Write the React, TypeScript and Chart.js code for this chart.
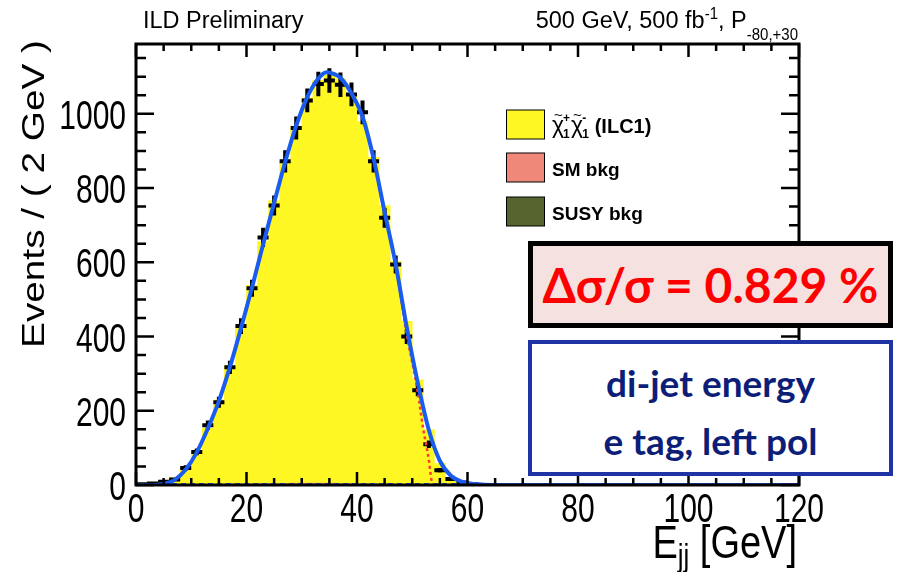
import React, { useEffect, useRef } from "react";
import { Chart, registerables } from "chart.js";
Chart.register(...registerables);

// ---------- data ----------
const binCenters = [1, 3, 5, 7, 9, 11, 13, 15, 17, 19, 21, 23, 25, 27, 29, 31, 33, 35, 37, 39, 41, 43, 45, 47, 49, 51, 53, 55, 57, 59, 61, 63];
const dataCounts = [2, 4, 9, 15, 46, 89, 161, 223, 317, 428, 530, 667, 753, 872, 962, 1036, 1080, 1090, 1078, 1052, 1004, 872, 720, 594, 400, 255, 110, 40, 16, 7, 2, 0];
const dataErrors = [1, 2, 3, 4, 7, 9, 13, 15, 18, 21, 23, 26, 27, 30, 31, 32, 33, 33, 33, 32, 32, 30, 27, 24, 20, 16, 10, 6, 4, 3, 1, 0];
const signalHist = [0, 2, 8, 20, 44, 86, 152, 228, 318, 425, 535, 652, 762, 868, 962, 1038, 1085, 1100, 1090, 1045, 975, 880, 750, 600, 440, 282, 148, 58, 18, 5, 1, 0];
const smBkgHist = [0, 0, 0, 0, 0, 1, 1, 1, 2, 2, 2, 3, 3, 3, 4, 4, 4, 4, 3, 3, 3, 2, 2, 2, 1, 1, 1, 0, 0, 0, 0, 0];
const susyBkgHist = [0, 0, 0, 0, 0, 0, 0, 0, 1, 1, 1, 1, 1, 1, 1, 1, 1, 1, 1, 1, 1, 1, 1, 0, 0, 0, 0, 0, 0, 0, 0, 0];

const fitE = [0, 3, 4, 5, 7, 9, 11, 13, 15, 17, 19, 21, 23, 25, 27, 29, 31, 33, 34.5, 36, 37, 39, 41, 43, 45, 47, 49, 51, 53, 55, 57, 59, 61, 63, 66, 120];
const fitY = [0, 0, 1, 3, 14, 42, 88, 152, 226, 318, 422, 532, 648, 760, 870, 968, 1045, 1095, 1112, 1106, 1097, 1055, 992, 880, 735, 595, 425, 275, 148, 65, 25, 9, 3, 1, 0, 0];

const sigCompE = [43, 45, 47, 49, 50, 51, 52, 52.5, 53, 53.3, 53.6];
const sigCompY = [878, 730, 592, 405, 330, 250, 150, 110, 68, 32, 0];

const bkgCompE = [0, 120];
const bkgCompY = [3, 3];

const xTickLabels = [0, 20, 40, 60, 80, 100, 120];
const yTickLabels = [0, 200, 400, 600, 800, 1000];

const legendLabels = ["SM bkg", "SUSY bkg"];

// ---------- styles ----------
const FONT = '"Liberation Sans", Arial, Helvetica, sans-serif';
const YELLOW = "#fff724";
const SALMON = "#f0887a";
const OLIVE = "#566530";
const FITBLUE = "#1a5cf0";

function scaledText(ctx: CanvasRenderingContext2D, text: string, x: number, y: number, font: string, sx: number, sy: number, align: CanvasTextAlign = "left") {
  ctx.save();
  ctx.translate(x, y);
  ctx.scale(sx, sy);
  ctx.font = font;
  ctx.textAlign = align;
  ctx.textBaseline = "alphabetic";
  ctx.fillText(text, 0, 0);
  ctx.restore();
}

const errorBarPlugin = {
  id: "errorBars",
  afterDatasetDraw(chart: any, args: any) {
    if (args.index !== 3) return;
    const { ctx, chartArea: ca, scales } = chart;
    const x = scales.x, y = scales.y;
    ctx.save();
    ctx.beginPath();
    ctx.rect(ca.left, ca.top, ca.right - ca.left, ca.bottom - ca.top);
    ctx.clip();
    ctx.strokeStyle = "#000";
    ctx.lineWidth = 4;
    ctx.lineCap = "butt";
    for (let i = 0; i < binCenters.length; i++) {
      const c = binCenters[i], v = dataCounts[i], e = dataErrors[i];
      const px = x.getPixelForValue(c);
      const py = y.getPixelForValue(v);
      ctx.beginPath();
      ctx.moveTo(x.getPixelForValue(c - 1), py);
      ctx.lineTo(x.getPixelForValue(c + 1), py);
      ctx.moveTo(px, y.getPixelForValue(v - e));
      ctx.lineTo(px, y.getPixelForValue(v + e));
      ctx.stroke();
    }
    ctx.restore();
  },
};

const decorPlugin = {
  id: "decor",
  afterDraw(chart: any) {
    const { ctx, chartArea: ca, scales } = chart;
    const x = scales.x, y = scales.y;
    ctx.save();
    // frame
    ctx.strokeStyle = "#000";
    ctx.lineWidth = 3;
    ctx.strokeRect(ca.left, ca.top, ca.right - ca.left, ca.bottom - ca.top);
    // ticks
    ctx.lineWidth = 2.5;
    ctx.beginPath();
    for (let v = 0; v <= 120; v += 5) {
      const px = x.getPixelForValue(v);
      const len = v % 20 === 0 ? 13 : 7;
      ctx.moveTo(px, ca.bottom);
      ctx.lineTo(px, ca.bottom - len);
      ctx.moveTo(px, ca.top);
      ctx.lineTo(px, ca.top + len);
    }
    for (let v = 0; v <= 1150; v += 50) {
      const py = y.getPixelForValue(v);
      const len = v % 200 === 0 ? 18 : 10;
      ctx.moveTo(ca.left, py);
      ctx.lineTo(ca.left + len, py);
      ctx.moveTo(ca.right, py);
      ctx.lineTo(ca.right - len, py);
    }
    ctx.stroke();

    ctx.fillStyle = "#000";
    // tick labels
    for (const v of yTickLabels) {
      scaledText(ctx, String(v), ca.left - 10, y.getPixelForValue(v) + 15, `30px ${FONT}`, 1, 1.33, "right");
    }
    for (const v of xTickLabels) {
      scaledText(ctx, String(v), x.getPixelForValue(v), ca.bottom + 37, `30px ${FONT}`, 1, 1.33, "center");
    }

    // y title (rotated)
    ctx.save();
    ctx.translate(44, 40);
    ctx.rotate(-Math.PI / 2);
    ctx.scale(1.25, 1);
    ctx.font = `31px ${FONT}`;
    ctx.textAlign = "right";
    ctx.textBaseline = "alphabetic";
    ctx.fillText("Events / ( 2 GeV )", 0, 0);
    ctx.restore();

    // x title: E_jj [GeV]
    {
      const big = `38px ${FONT}`;
      const small = `26px ${FONT}`;
      ctx.font = big;
      const wGeV = ctx.measureText(" [GeV]").width;
      const wE = ctx.measureText("E").width;
      ctx.font = small;
      const wjj = ctx.measureText("jj").width;
      const right = ca.right - 2;
      const base = 558;
      const xGeV = right - wGeV;
      const xjj = xGeV - wjj;
      const xE = xjj - wE;
      scaledText(ctx, "E", xE, base, big, 1, 1.2);
      scaledText(ctx, "jj", xjj, base + 8, small, 1, 1.2);
      scaledText(ctx, " [GeV]", xGeV, base, big, 1, 1.2);
    }

    // header
    scaledText(ctx, "ILD Preliminary", 143, 28, `23.5px ${FONT}`, 1, 1.05);
    {
      const f = `23.5px ${FONT}`;
      const fs = `15px ${FONT}`;
      ctx.font = f;
      const w1 = ctx.measureText("500 GeV, 500 fb").width;
      const w3 = ctx.measureText(", P").width;
      ctx.font = fs;
      const w2 = ctx.measureText("-1").width;
      const w4 = ctx.measureText("-80,+30").width;
      const right = 798;
      const x4 = right - w4;
      const x3 = x4 - w3;
      const x2 = x3 - w2;
      const x1 = x2 - w1;
      scaledText(ctx, "500 GeV, 500 fb", x1, 28, f, 1, 1.05);
      scaledText(ctx, "-1", x2, 19, fs, 1, 1.05);
      scaledText(ctx, ", P", x3, 28, f, 1, 1.05);
      scaledText(ctx, "-80,+30", x4, 40, fs, 1, 1.05);
    }

    // legend
    const boxes = [
      { c: YELLOW, top: 110 },
      { c: SALMON, top: 153 },
      { c: OLIVE, top: 197 },
    ];
    ctx.lineWidth = 1;
    ctx.strokeStyle = "#000";
    for (const b of boxes) {
      ctx.fillStyle = b.c;
      ctx.fillRect(506.5, b.top, 38, 29);
      ctx.strokeRect(506.5, b.top, 38, 29);
    }
    ctx.fillStyle = "#000";
    // chi chi label
    {
      const base = 133;
      let cx = 552;
      ctx.textAlign = "left";
      ctx.textBaseline = "alphabetic";
      const drawChi = (sup: string) => {
        ctx.font = `23px ${FONT}`;
        ctx.fillText("\u03c7", cx, base);
        const wc = ctx.measureText("\u03c7").width;
        ctx.font = `15px ${FONT}`;
        ctx.fillText("~", cx + 2, base - 13);
        ctx.font = `bold 12px ${FONT}`;
        ctx.fillText("1", cx + wc - 1, base + 5);
        ctx.fillText(sup, cx + wc - 1, base - 11);
        cx += wc + 7;
      };
      drawChi("+");
      drawChi("-");
      ctx.font = `bold 20px ${FONT}`;
      ctx.fillText(" (ILC1)", cx - 1, base);
    }
    ctx.font = `bold 19px ${FONT}`;
    ctx.fillText(legendLabels[0], 552, 176);
    ctx.fillText(legendLabels[1], 552, 220);
    ctx.restore();
  },
};

export default function App() {
  const ref = useRef<HTMLCanvasElement | null>(null);
  useEffect(() => {
    if (!ref.current) return;
    const pts = (xs: number[], ys: number[]) => xs.map((x, i) => ({ x, y: ys[i] }));
    const chart = new Chart(ref.current, {
      data: {
        datasets: [
          {
            type: "line",
            label: "fit",
            data: pts(fitE, fitY),
            borderColor: FITBLUE,
            borderWidth: 4,
            pointRadius: 0,
            cubicInterpolationMode: "monotone",
            fill: false,
            stack: "fit",
          },
          {
            type: "line",
            label: "signal component",
            data: pts(sigCompE, sigCompY),
            borderColor: "#ff3b30",
            borderWidth: 2.5,
            borderDash: [3, 3],
            pointRadius: 0,
            cubicInterpolationMode: "monotone",
            fill: false,
            stack: "sig",
          },
          {
            type: "line",
            label: "bkg component",
            data: pts(bkgCompE, bkgCompY),
            borderColor: FITBLUE,
            borderWidth: 2,
            borderDash: [5, 4],
            pointRadius: 0,
            fill: false,
            stack: "bkg",
          },
          {
            type: "scatter",
            label: "data",
            data: pts(binCenters, dataCounts),
            pointRadius: 0,
            showLine: false,
            stack: "pts",
          },
          {
            type: "bar",
            label: "SUSY bkg",
            data: pts(binCenters, susyBkgHist),
            backgroundColor: OLIVE,
            borderWidth: 0,
            barPercentage: 1,
            categoryPercentage: 1,
            stack: "hist",
          },
          {
            type: "bar",
            label: "SM bkg",
            data: pts(binCenters, smBkgHist),
            backgroundColor: SALMON,
            borderWidth: 0,
            barPercentage: 1,
            categoryPercentage: 1,
            stack: "hist",
          },
          {
            type: "bar",
            label: "signal",
            data: pts(binCenters, signalHist),
            backgroundColor: YELLOW,
            borderWidth: 0,
            barPercentage: 1,
            categoryPercentage: 1,
            stack: "hist",
          },
        ] as any,
      },
      options: {
        responsive: false,
        devicePixelRatio: 1,
        animation: false,
        layout: { padding: { left: 0, right: 107, top: 44, bottom: 0 } },
        plugins: { legend: { display: false }, tooltip: { enabled: false } },
        scales: {
          x: {
            type: "linear",
            min: 0,
            max: 120,
            offset: false,
            stacked: true,
            grid: { display: false, offset: false },
            border: { display: false },
            ticks: { display: false },
            afterFit: (s: any) => { s.height = 87; },
          },
          y: {
            type: "linear",
            min: 0,
            max: 1188,
            stacked: true,
            grid: { display: false },
            border: { display: false },
            ticks: { display: false },
            afterFit: (s: any) => { s.width = 136; },
          },
        },
      } as any,
      plugins: [errorBarPlugin, decorPlugin],
    });
    return () => chart.destroy();
  }, []);

  return (
    <div style={{ position: "fixed", left: 0, top: 0, width: 906, height: 572, background: "#fff", overflow: "hidden" }}>
      <canvas ref={ref} width={906} height={572} style={{ display: "block" }} />
      <div
        style={{
          position: "absolute", left: 528, top: 241, width: 365, height: 87, boxSizing: "border-box",
          border: "5px solid #000", background: "#f4e1e0", display: "flex", alignItems: "center", justifyContent: "center",
          fontFamily: "Lato, 'Open Sans', sans-serif", fontWeight: 700, fontSize: 48, color: "#ff0000", whiteSpace: "nowrap",
        }}
      >
        Δσ/σ = 0.829 %
      </div>
      <div
        style={{
          position: "absolute", left: 528, top: 340, width: 365, height: 136, boxSizing: "border-box",
          border: "4px solid #1f33a6", background: "#fff", display: "flex", flexDirection: "column", alignItems: "center", justifyContent: "center",
          fontFamily: "Lato, 'Open Sans', sans-serif", fontWeight: 700, fontSize: 37, color: "#0d1e78", lineHeight: "58px", paddingTop: 8,
        }}
      >
        <div>di-jet energy</div>
        <div>e tag, left pol</div>
      </div>
    </div>
  );
}
